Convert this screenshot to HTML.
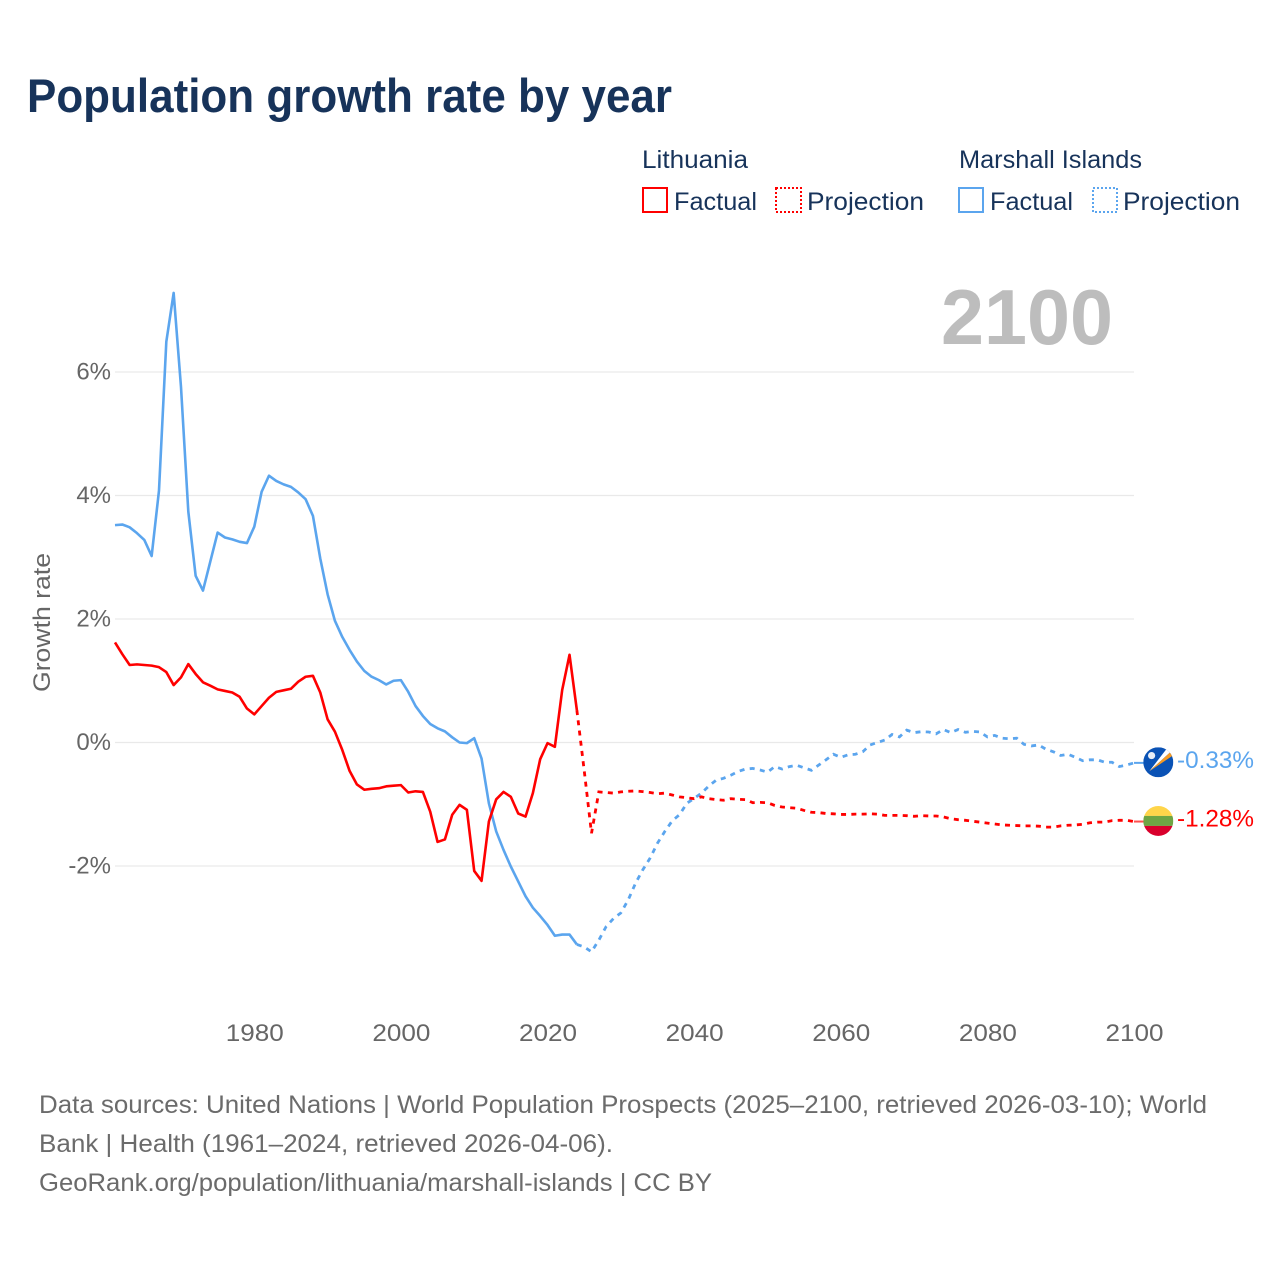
<!DOCTYPE html>
<html lang="en">
<head>
<meta charset="utf-8">
<title>Population growth rate by year</title>
<style>
html,body{margin:0;padding:0;background:#fff;width:1280px;height:1280px;overflow:hidden}
svg{display:block}
text{font-family:"Liberation Sans",sans-serif}
</style>
</head>
<body>
<svg id="chart" xmlns="http://www.w3.org/2000/svg" width="1280" height="1280" viewBox="0 0 1280 1280">
  <defs>
    <clipPath id="flag-clip"><circle cx="0" cy="0" r="15"/></clipPath>
  </defs>
  <text x="27" y="112" font-size="47" font-weight="700" fill="#17335a" textLength="645" lengthAdjust="spacingAndGlyphs">Population growth rate by year</text>

  <g font-size="25" fill="#17335a">
    <text x="642" y="168" textLength="106" lengthAdjust="spacingAndGlyphs">Lithuania</text>
    <rect x="643" y="188" width="24" height="24" fill="none" stroke="#ff0000" stroke-width="2"/>
    <text x="674" y="210" textLength="83" lengthAdjust="spacingAndGlyphs">Factual</text>
    <rect x="776" y="188" width="25" height="24" fill="none" stroke="#ff0000" stroke-width="2" stroke-dasharray="2 2"/>
    <text x="807" y="210" textLength="117" lengthAdjust="spacingAndGlyphs">Projection</text>
    <text x="959" y="168" textLength="183" lengthAdjust="spacingAndGlyphs">Marshall Islands</text>
    <rect x="959" y="188" width="24" height="24" fill="none" stroke="#5ba5ee" stroke-width="2"/>
    <text x="990" y="210" textLength="83" lengthAdjust="spacingAndGlyphs">Factual</text>
    <rect x="1093" y="188" width="24" height="24" fill="none" stroke="#5ba5ee" stroke-width="2" stroke-dasharray="2 2"/>
    <text x="1123" y="210" textLength="117" lengthAdjust="spacingAndGlyphs">Projection</text>
  </g>

  <text x="941" y="344" font-size="78" font-weight="700" fill="#bdbdbd" textLength="172" lengthAdjust="spacingAndGlyphs">2100</text>

  <g id="grid"></g>
  <g id="y-axis"></g>
  <g id="x-axis"></g>
  <text transform="translate(50,692) rotate(-90)" font-size="24" fill="#666666" textLength="139" lengthAdjust="spacingAndGlyphs">Growth rate</text>

  <g id="series"></g>

  <g id="flag-marshall">
    <g clip-path="url(#flag-clip)">
      <rect x="-15" y="-15" width="30" height="30" fill="#0a52b5"/>
      <polygon points="-9,9 8,-13 13,-11" fill="#ffffff"/>
      <polygon points="-9,9 13,-11 15,-7" fill="#f59a23"/>
      <circle cx="-6.7" cy="-6.7" r="3.6" fill="#e8eef7"/>
    </g>
  </g>
  <g id="flag-lithuania">
    <g clip-path="url(#flag-clip)">
      <rect x="-15" y="-15" width="30" height="10" fill="#ffd54a"/>
      <rect x="-15" y="-5" width="30" height="10" fill="#6ea544"/>
      <rect x="-15" y="5" width="30" height="10" fill="#d9002c"/>
    </g>
  </g>
  <g id="end-labels"></g>

  <g font-size="25" fill="#6b6b6b">
    <text x="39" y="1113" textLength="1168" lengthAdjust="spacingAndGlyphs">Data sources: United Nations | World Population Prospects (2025–2100, retrieved 2026-03-10); World</text>
    <text x="39" y="1152" textLength="574" lengthAdjust="spacingAndGlyphs">Bank | Health (1961–2024, retrieved 2026-04-06).</text>
    <text x="39" y="1191" textLength="673" lengthAdjust="spacingAndGlyphs">GeoRank.org/population/lithuania/marshall-islands | CC BY</text>
  </g>
</svg>

<script>
const firstFactualYear = 1961;
const firstProjectionYear = 2025;
const xTickYears = [1980, 2000, 2020, 2040, 2060, 2080, 2100];
const yTickValues = [6, 4, 2, 0, -2];
const yTickLabels = ["6%", "4%", "2%", "0%", "-2%"];

const lithuaniaFactual = [
  1.62, 1.43, 1.255, 1.265, 1.255, 1.245, 1.22, 1.14, 0.93, 1.055,
  1.27, 1.11, 0.975, 0.92, 0.86, 0.835, 0.81, 0.74, 0.55, 0.455,
  0.59, 0.725, 0.82, 0.845, 0.87, 0.985, 1.065, 1.08, 0.81, 0.375,
  0.175, -0.12, -0.46, -0.68, -0.765, -0.75, -0.74, -0.71, -0.70, -0.69,
  -0.81, -0.79, -0.80, -1.12, -1.61, -1.57, -1.17, -1.01, -1.09, -2.08,
  -2.24, -1.28, -0.92, -0.80, -0.88, -1.15, -1.20, -0.82, -0.27, -0.01,
  -0.07, 0.85, 1.42, 0.525
];
const lithuaniaProjection = [
  -0.45, -1.47, -0.80, -0.81, -0.82, -0.80, -0.79, -0.785, -0.795, -0.81,
  -0.83, -0.82, -0.85, -0.88, -0.895, -0.91, -0.88, -0.91, -0.925, -0.935,
  -0.91, -0.92, -0.925, -0.975, -0.97, -0.975, -1.02, -1.045, -1.055, -1.065,
  -1.10, -1.13, -1.135, -1.15, -1.155, -1.165, -1.165, -1.16, -1.16, -1.155,
  -1.16, -1.18, -1.18, -1.18, -1.185, -1.195, -1.185, -1.19, -1.19, -1.205,
  -1.235, -1.25, -1.26, -1.275, -1.29, -1.305, -1.32, -1.335, -1.34, -1.345,
  -1.35, -1.35, -1.355, -1.37, -1.37, -1.35, -1.34, -1.335, -1.325, -1.30,
  -1.29, -1.29, -1.265, -1.26, -1.26, -1.28
];
const marshallFactual = [
  3.52, 3.53, 3.485, 3.39, 3.28, 3.02, 4.08, 6.49, 7.28, 5.76,
  3.74, 2.70, 2.46, 2.93, 3.40, 3.32, 3.29, 3.25, 3.23, 3.495,
  4.06, 4.32, 4.235, 4.18, 4.14, 4.05, 3.94, 3.67, 2.98, 2.40,
  1.97, 1.71, 1.50, 1.31, 1.16, 1.065, 1.01, 0.94, 1.00, 1.01,
  0.82, 0.59, 0.43, 0.30, 0.23, 0.18, 0.084, 0.00, -0.01, 0.07,
  -0.26, -0.985, -1.44, -1.74, -2.01, -2.25, -2.49, -2.675, -2.81, -2.955,
  -3.13, -3.11, -3.11, -3.27
];
const marshallProjection = [
  -3.31, -3.39, -3.20, -2.98, -2.85, -2.76, -2.55, -2.28, -2.06, -1.87,
  -1.63, -1.44, -1.27, -1.17, -0.985, -0.905, -0.82, -0.705, -0.61, -0.58,
  -0.53, -0.47, -0.43, -0.42, -0.445, -0.48, -0.39, -0.43, -0.39, -0.37,
  -0.41, -0.45, -0.365, -0.28, -0.19, -0.24, -0.20, -0.19, -0.15, -0.04,
  0.00, 0.04, 0.13, 0.09, 0.20, 0.16, 0.175, 0.17, 0.14, 0.21,
  0.16, 0.21, 0.165, 0.18, 0.17, 0.09, 0.115, 0.07, 0.06, 0.07,
  -0.03, -0.055, -0.04, -0.11, -0.15, -0.21, -0.19, -0.24, -0.295, -0.28,
  -0.28, -0.32, -0.32, -0.39, -0.365, -0.33
];

const NS = "http://www.w3.org/2000/svg";
const domainX = [1961, 2100], rangeX = [115, 1134];
const zeroY = 742.5, pxPerPercent = 61.75;
function xScale(year) {
  return rangeX[0] + (year - domainX[0]) * (rangeX[1] - rangeX[0]) / (domainX[1] - domainX[0]);
}
function yScale(value) {
  return zeroY - value * pxPerPercent;
}
function make(parentId, tag, attrs, text) {
  const el = document.createElementNS(NS, tag);
  for (const k in attrs) el.setAttribute(k, attrs[k]);
  if (text !== undefined) el.textContent = text;
  document.getElementById(parentId).appendChild(el);
  return el;
}
function pathFrom(startYear, values, lead) {
  const pts = [];
  if (lead !== undefined) pts.push([xScale(startYear - 1), yScale(lead)]);
  values.forEach(function (v, i) { pts.push([xScale(startYear + i), yScale(v)]); });
  return pts.map(function (p, i) { return (i ? "L" : "M") + p[0].toFixed(2) + " " + p[1].toFixed(2); }).join("");
}

yTickValues.forEach(function (v, i) {
  const line = make("grid", "line", {x1: rangeX[0], x2: rangeX[1], y1: yScale(v), y2: yScale(v), stroke: "#e9e9e9", "stroke-width": 1.3});
  
  
  const label = make("y-axis", "text", {x: 111, y: yScale(v) + 7.5, "text-anchor": "end", "font-size": 24, fill: "#666666"}, yTickLabels[i]);
  
  
});
xTickYears.forEach(function (year) {
  const label = make("x-axis", "text", {x: xScale(year) + 0.5, y: 1041, "text-anchor": "middle", "font-size": 24, fill: "#666666", textLength: 58, lengthAdjust: "spacingAndGlyphs"}, String(year));
  
  
});

const marshallSolid = make("series", "path", {d: pathFrom(firstFactualYear, marshallFactual), fill: "none", stroke: "#5ba5ee", "stroke-width": 2.6, "stroke-linejoin": "round"});


const marshallDashed = make("series", "path", {d: pathFrom(firstProjectionYear, marshallProjection, marshallFactual[marshallFactual.length - 1]), fill: "none", stroke: "#5ba5ee", "stroke-width": 2.8, "stroke-dasharray": "5 5.3"});


const lithuaniaSolid = make("series", "path", {d: pathFrom(firstFactualYear, lithuaniaFactual), fill: "none", stroke: "#ff0000", "stroke-width": 2.6, "stroke-linejoin": "round"});


const lithuaniaDashed = make("series", "path", {d: pathFrom(firstProjectionYear, lithuaniaProjection, lithuaniaFactual[lithuaniaFactual.length - 1]), fill: "none", stroke: "#ff0000", "stroke-width": 2.8, "stroke-dasharray": "5 5.3"});



const endM = marshallProjection[marshallProjection.length - 1];
const endL = lithuaniaProjection[lithuaniaProjection.length - 1];
const lastX = xScale(domainX[1]);

const connectorM = make("series", "line", {x1: lastX, x2: lastX + 10, y1: yScale(endM), y2: yScale(endM), stroke: "#5ba5ee", "stroke-width": 2});


const connectorL = make("series", "line", {x1: lastX, x2: lastX + 10, y1: yScale(endL), y2: yScale(endL), stroke: "#ff5050", "stroke-width": 2});



document.getElementById("flag-marshall").setAttribute("transform", "translate(" + (lastX + 24.3) + "," + (yScale(endM) - 0.6) + ")");
document.getElementById("flag-lithuania").setAttribute("transform", "translate(" + (lastX + 24.3) + "," + (yScale(endL) - 0.6) + ")");

const endLabelM = make("end-labels", "text", {x: 1177, y: yScale(endM) + 5, "font-size": 24, fill: "#5ba5ee", textLength: 77, lengthAdjust: "spacingAndGlyphs"}, endM.toFixed(2) + "%");


const endLabelL = make("end-labels", "text", {x: 1177, y: yScale(endL) + 5, "font-size": 24, fill: "#ff0000", textLength: 77, lengthAdjust: "spacingAndGlyphs"}, endL.toFixed(2) + "%");


</script>
</body>
</html>
